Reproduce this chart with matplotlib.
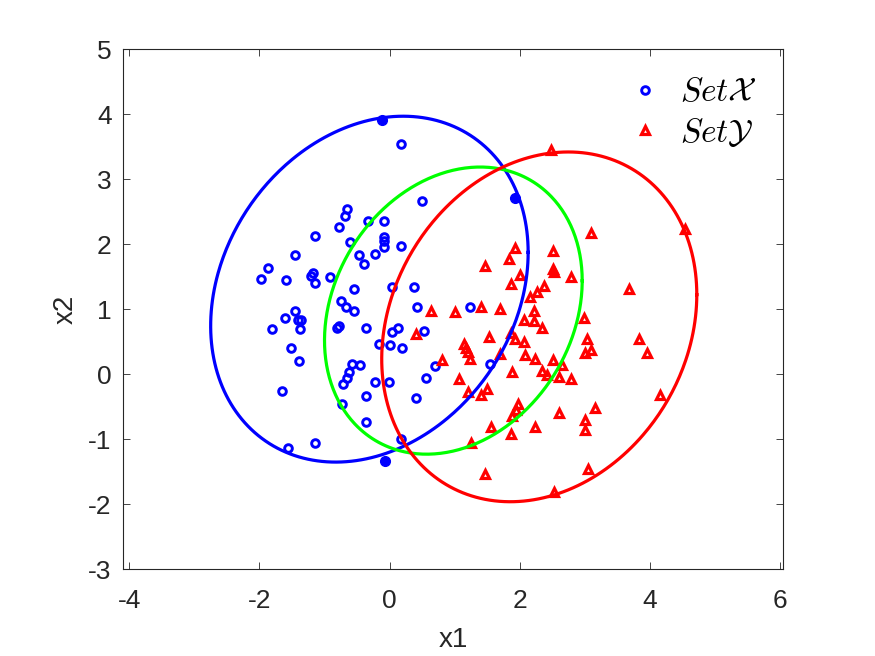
import numpy as np
import matplotlib
matplotlib.use("Agg")
import matplotlib.pyplot as plt

plt.rcParams['font.family'] = ['Liberation Sans', 'DejaVu Sans']
plt.rcParams['mathtext.fontset'] = 'cm'
plt.rcParams['axes.unicode_minus'] = False

# Set X (blue circles)
setx_x = [0.18, 0.50, -0.66, -0.69, -0.33, -0.09, -0.77, -1.14, -0.09, -0.09, -0.61, 0.18, -0.09,
          -1.45, -0.47, -0.22, -0.39, -1.87, -1.97, -1.59, -1.17, -1.21, -1.14, -0.91, -0.54, 0.03,
          0.38, -0.74, -0.67, -0.54, 0.42, 1.23, -1.46, -1.60, -1.40, -1.36, -1.38, -1.81, -0.81,
          -0.77, -0.37, 0.13, 0.03, 0.53, -0.16, 0.01, 0.19, -1.52, -1.39, -0.58, -0.45, -0.62,
          -0.66, -0.72, -0.22, -0.01, 0.70, 0.56, 0.41, -1.66, -0.37, -0.73, -0.37, 0.17, -1.15,
          -1.56, 1.55]
setx_y = [3.54, 2.67, 2.54, 2.43, 2.36, 2.36, 2.27, 2.13, 2.12, 2.05, 2.03, 1.97, 1.96,
          1.83, 1.84, 1.85, 1.70, 1.63, 1.47, 1.45, 1.56, 1.52, 1.40, 1.50, 1.31, 1.34,
          1.35, 1.13, 1.03, 0.98, 1.04, 1.03, 0.97, 0.87, 0.84, 0.84, 0.70, 0.70, 0.72,
          0.75, 0.71, 0.72, 0.65, 0.67, 0.47, 0.45, 0.41, 0.40, 0.20, 0.16, 0.15, 0.04,
          -0.05, -0.15, -0.12, -0.12, 0.12, -0.05, -0.36, -0.26, -0.33, -0.45, -0.74, -1.00, -1.05,
          -1.14, 0.16]
# boundary points of set X (filled)
setx_sup_x = [-0.12, 1.93, -0.07]
setx_sup_y = [3.91, 2.72, -1.33]

# Set Y (red triangles)
sety_x = [2.48, 3.10, 4.54, 1.92, 2.51, 1.83, 1.47, 2.51, 2.52, 2.00, 2.79, 1.87, 2.38, 2.26,
          3.68, 2.16, 0.63, 1.01, 1.40, 1.70, 2.22, 2.07, 2.22, 2.34, 2.98, 0.41, 1.53, 1.86,
          1.93, 2.06, 3.03, 3.10, 3.00, 3.84, 3.96, 1.15, 1.18, 1.21, 1.24, 0.80, 1.70, 2.08,
          2.23, 2.51, 2.65, 1.88, 2.34, 2.42, 2.61, 2.79, 1.07, 1.20, 1.40, 1.49, 1.98, 1.94,
          1.88, 2.60, 3.16, 3.01, 3.01, 4.15, 1.56, 1.87, 2.23, 1.25, 1.46, 3.05, 2.53]
sety_y = [3.45, 2.18, 2.23, 1.95, 1.90, 1.77, 1.66, 1.62, 1.57, 1.53, 1.49, 1.39, 1.36, 1.27,
          1.31, 1.19, 0.98, 0.96, 1.04, 1.00, 0.98, 0.84, 0.82, 0.71, 0.87, 0.62, 0.57, 0.64,
          0.54, 0.50, 0.54, 0.38, 0.32, 0.54, 0.32, 0.47, 0.40, 0.34, 0.24, 0.22, 0.31, 0.30,
          0.23, 0.22, 0.14, 0.04, 0.05, -0.01, -0.04, -0.07, -0.08, -0.28, -0.32, -0.22, -0.45, -0.55,
          -0.64, -0.59, -0.52, -0.70, -0.86, -0.32, -0.81, -0.92, -0.81, -1.05, -1.53, -1.45, -1.81]

# Ellipses: center (cx, cy) and shape matrix [[sxx, sxy],[sxy, syy]]
ell_names = ['X', 'mid', 'Y']
ell_cx = [-0.31, 0.98, 2.30]
ell_cy = [1.31, 0.98, 0.73]
ell_sxx = [5.95, 3.92, 5.86]
ell_syy = [7.08, 4.88, 7.24]
ell_sxy = [1.38, 0.91, 1.20]
ell_colors = ['#0000ff', '#00ff00', '#ff0000']

fig = plt.figure(figsize=(8.75, 6.56), dpi=100)
ax = fig.add_axes([0.1403, 0.1322, 0.7549, 0.7926])

ax.plot(setx_x, setx_y, 'o', ls='none', mfc='none', mec='#0000ff', ms=5.5, mew=2.1,
        label=r'$Set\mathcal{X}$', zorder=3)
ax.plot(sety_x, sety_y, '^', ls='none', mfc='none', mec='#ff0000', ms=6.3, mew=2.3,
        label=r'$Set\mathcal{Y}$', zorder=3)

t = np.linspace(0, 2 * np.pi, 400)
circle = np.vstack([np.cos(t), np.sin(t)])
for cx, cy, sxx, syy, sxy, c in zip(ell_cx, ell_cy, ell_sxx, ell_syy, ell_sxy, ell_colors):
    M = np.array([[sxx, sxy], [sxy, syy]])
    L = np.linalg.cholesky(M)
    pts = L @ circle
    ax.plot(cx + pts[0], cy + pts[1], color=c, lw=2.3, zorder=4)

ax.plot(setx_sup_x, setx_sup_y, 'o', ls='none', color='#0000ff', ms=7, zorder=5)

ax.set_xlim(-4.1, 6.05)
ax.set_ylim(-3, 5)
ax.set_xticks([-4, -2, 0, 2, 4, 6])
ax.set_yticks([-3, -2, -1, 0, 1, 2, 3, 4, 5])
ax.tick_params(direction='in', top=True, right=True, length=5, width=0.6,
               labelsize=19, colors='#262626')
ax.tick_params(axis='x', pad=14)
ax.tick_params(axis='y', pad=8)
for s in ax.spines.values():
    s.set_linewidth(0.8)
    s.set_color('#262626')
ax.set_xlabel('x1', fontsize=20, color='#262626', labelpad=10)
ax.set_ylabel('x2', fontsize=20, color='#262626', labelpad=7)

leg = ax.legend(loc='upper left', frameon=False, fontsize=24, handlelength=1.0,
                handletextpad=0.55, borderaxespad=0.0, borderpad=0.0,
                labelspacing=0.22, bbox_to_anchor=(0.7657, 0.946))

fig.savefig('out.png', dpi=100)
